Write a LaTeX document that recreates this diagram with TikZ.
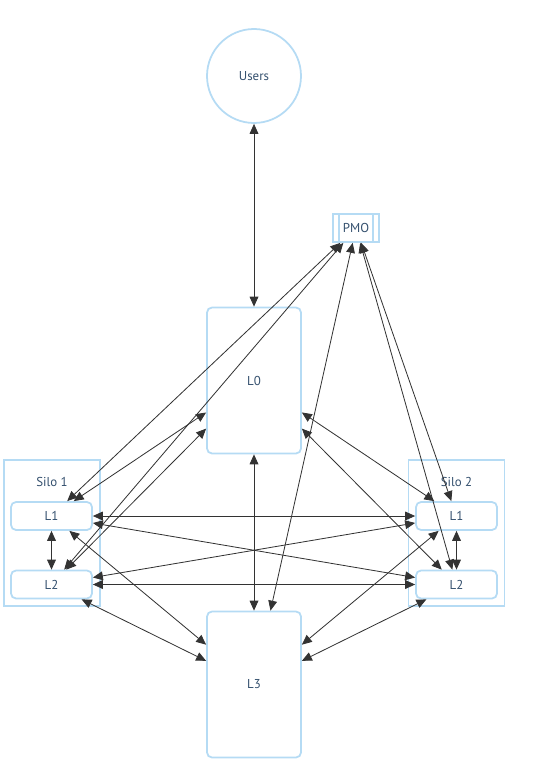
\documentclass[tikz,border=0pt]{standalone}
\usepackage{fontspec}
\setmainfont{PT Sans}
\usepackage{tikz}
\usetikzlibrary{arrows.meta}
\definecolor{nodeline}{HTML}{B5DBF4}
\definecolor{nodetext}{HTML}{34506E}
\definecolor{edgeline}{HTML}{333333}

\begin{document}
\begin{tikzpicture}[x=0.03cm,y=-0.03cm]
\tikzset{>={Triangle[length=8.5pt,width=7.5pt]}}
\tikzstyle{box} =[draw=nodeline,line width=1.5pt,fill=white,rounded corners=0.15cm,text=nodetext,font=\fontsize{11}{13}\selectfont,inner sep=0pt]
\tikzstyle{bigbox} =[box,minimum width=2.82cm,minimum height=4.38cm]
\tikzstyle{smallbox} =[box,minimum width=2.43cm,minimum height=0.84cm]
\tikzstyle{silo} =[draw=nodeline,line width=1.5pt,minimum width=2.88cm,minimum height=4.38cm]
\tikzstyle{silolabel} =[text=nodetext,font=\fontsize{11}{13}\selectfont,inner sep=0pt]
\tikzstyle{link} =[<->,draw=edgeline,line width=0.7pt]

\useasboundingbox (0,0) rectangle (552,768);

\node[silo](silo1) at (52,533){};
\node[silolabel](silo1label) at (52,482){Silo 1};
\node[silo](silo2) at (456.5,533){};
\node[silolabel](silo2label) at (456.5,482){Silo 2};

\node[box,circle,minimum size=2.82cm](users) at (254,76){Users};
\node[box,rounded corners=0pt,minimum width=1.38cm,minimum height=0.84cm](pmo) at (356,228){PMO};
\draw[nodeline,line width=1.5pt] ([xshift=0.2cm]pmo.north west) -- ([xshift=0.2cm]pmo.south west);
\draw[nodeline,line width=1.5pt] ([xshift=-0.2cm]pmo.north east) -- ([xshift=-0.2cm]pmo.south east);
\node[bigbox](l0) at (254,380.5){L0};
\node[bigbox](l3) at (254,684.5){L3};
\node[smallbox](s1l1) at (51.5,516){L1};
\node[smallbox](s1l2) at (51.5,584.5){L2};
\node[smallbox](s2l1) at (456.5,516){L1};
\node[smallbox](s2l2) at (456.5,584.5){L2};

\draw [link] (users) to (l0);
\draw [link] (l0) to (l3);
\draw [link] (pmo) to (l3);
\draw [link] (pmo) to (s1l1);
\draw [link] (pmo) to (s1l2);
\draw [link] (pmo) to (s2l1);
\draw [link] (pmo) to (s2l2);
\draw [link] (l0) to (s1l1);
\draw [link] (l0) to (s1l2);
\draw [link] (l0) to (s2l1);
\draw [link] (l0) to (s2l2);
\draw [link] (s1l1) to (s1l2);
\draw [link] (s2l1) to (s2l2);
\draw [link] (s1l1) to (s2l1);
\draw [link] (s1l2) to (s2l2);
\draw [link] (s1l1) to (s2l2);
\draw [link] (s1l2) to (s2l1);
\draw [link] (s1l1) to (l3);
\draw [link] (s1l2) to (l3);
\draw [link] (s2l1) to (l3);
\draw [link] (s2l2) to (l3);
\end{tikzpicture}
\end{document}
